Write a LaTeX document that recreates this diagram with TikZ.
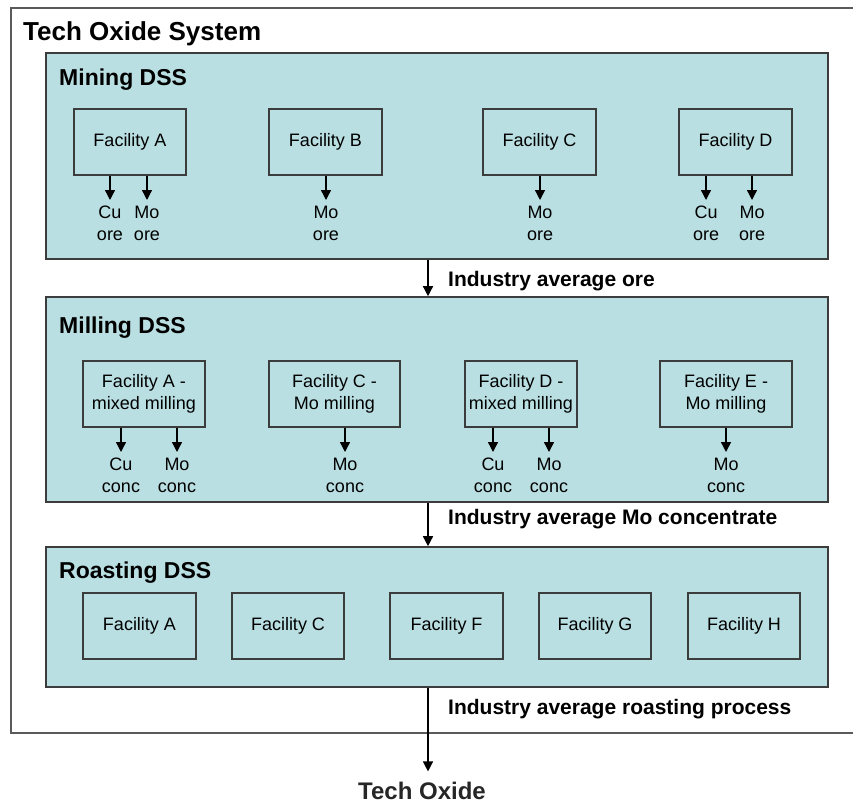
\documentclass[tikz,border=0pt]{standalone}
\usepackage{fontspec}
\setmainfont{Liberation Sans}
\usetikzlibrary{positioning}
\usetikzlibrary{calc}
\usetikzlibrary{arrows.meta}
\definecolor{panelfill}{HTML}{B9DFE2}
\definecolor{boxline}{HTML}{3C3C3C}
\definecolor{frameline}{HTML}{5A5A5A}
\newcommand{\plainfont}{\fontsize{18}{22}\selectfont}
\newcommand{\flowfont}{\bfseries\fontsize{21}{25}\selectfont}

\begin{document}
\begin{tikzpicture}[x=1pt, y=-1pt,
	panel/.style={draw=boxline, line width=1.6pt, fill=panelfill, inner sep=0pt, minimum width=782pt},
	facility/.style={draw=boxline, line width=1.6pt, fill=panelfill, align=center, font=\plainfont, minimum height=66pt, inner sep=2pt},
	output/.style={align=center, font=\plainfont, anchor=north, inner sep=0pt, outer sep=6pt},
	heading/.style={anchor=base west, inner sep=0pt, font=\bfseries\fontsize{23}{27}\selectfont},
	flowlabel/.style={anchor=base west, inner sep=0pt, font=\flowfont},
	arr/.style={-{Triangle[width=10pt,length=10pt]}, line width=1.4pt}]
	\useasboundingbox (0,0) rectangle (853,803);
	\draw[draw=frameline, line width=2pt] (11,8) rectangle (880,733);
	\node[anchor=base west, inner sep=0pt, font=\bfseries\fontsize{26}{30}\selectfont] (system) at (23,40) {Tech Oxide System};
	\coordinate (flow) at (428,0);
	
	\node[panel, minimum height=206pt] (mining) at (437,156) {};
	\node[heading] (miningtitle) at (59,85) {Mining DSS};
	\node[facility, minimum width=112pt] (mineA) at (130,142) {Facility A};
	\node[facility, minimum width=113pt] (mineB) at (325.5,142) {Facility B};
	\node[facility, minimum width=113pt] (mineC) at (539.5,142) {Facility C};
	\node[facility, minimum width=113pt] (mineD) at (735.5,142) {Facility D};
	\node[output] (mineAcu) at (110,200) {Cu\\ore};
	\node[output] (mineAmo) at (147,200) {Mo\\ore};
	\node[output] (mineBmo) at (326,200) {Mo\\ore};
	\node[output] (mineCmo) at (540,200) {Mo\\ore};
	\node[output] (mineDcu) at (706,200) {Cu\\ore};
	\node[output] (mineDmo) at (752,200) {Mo\\ore};
	
	\node[panel, minimum height=205pt] (milling) at (437,399.5) {};
	\node[heading] (millingtitle) at (59,333) {Milling DSS};
	\node[facility, minimum width=122pt] (millA) at (144,394) {Facility A -\\mixed milling};
	\node[facility, minimum width=131pt] (millC) at (334.5,394) {Facility C -\\Mo milling};
	\node[facility, minimum width=112pt] (millD) at (521,394) {Facility D -\\mixed milling};
	\node[facility, minimum width=132pt] (millE) at (726,394) {Facility E -\\Mo milling};
	\node[output] (millAcu) at (121,452) {Cu\\conc};
	\node[output] (millAmo) at (177,452) {Mo\\conc};
	\node[output] (millCmo) at (345,452) {Mo\\conc};
	\node[output] (millDcu) at (493,452) {Cu\\conc};
	\node[output] (millDmo) at (549,452) {Mo\\conc};
	\node[output] (millEmo) at (726,452) {Mo\\conc};
	
	\node[panel, minimum height=140pt] (roasting) at (437,617) {};
	\node[heading] (roastingtitle) at (59,578) {Roasting DSS};
	\node[facility, minimum width=113pt] (roastA) at (139.5,626) {Facility A};
	\node[facility, minimum width=112pt] (roastC) at (288,626) {Facility C};
	\node[facility, minimum width=113pt] (roastF) at (446.5,626) {Facility F};
	\node[facility, minimum width=112pt] (roastG) at (595,626) {Facility G};
	\node[facility, minimum width=112pt] (roastH) at (744,626) {Facility H};
	
	\node[flowlabel] (oreavg) at (448,286) {Industry average ore};
	\node[flowlabel] (concavg) at (448,524) {Industry average Mo concentrate};
	\node[flowlabel] (roastavg) at (448,714) {Industry average roasting process};
	\node[anchor=base, inner sep=0pt, font=\bfseries\fontsize{24}{28}\selectfont, text=black!85] (oxide) at (422,799) {Tech Oxide};
	
	\draw[arr] (mineA.south -| mineAcu) -> (mineAcu.north);
	\draw[arr] (mineA.south -| mineAmo) -> (mineAmo.north);
	\draw[arr] (mineB.south -| mineBmo) -> (mineBmo.north);
	\draw[arr] (mineC.south -| mineCmo) -> (mineCmo.north);
	\draw[arr] (mineD.south -| mineDcu) -> (mineDcu.north);
	\draw[arr] (mineD.south -| mineDmo) -> (mineDmo.north);
	\draw[arr] (millA.south -| millAcu) -> (millAcu.north);
	\draw[arr] (millA.south -| millAmo) -> (millAmo.north);
	\draw[arr] (millC.south -| millCmo) -> (millCmo.north);
	\draw[arr] (millD.south -| millDcu) -> (millDcu.north);
	\draw[arr] (millD.south -| millDmo) -> (millDmo.north);
	\draw[arr] (millE.south -| millEmo) -> (millEmo.north);
	
	\draw[arr] (mining.south -| flow) -> (milling.north -| flow);
	\draw[arr] (milling.south -| flow) -> (roasting.north -| flow);
	\draw[arr, shorten >=10pt] (roasting.south -| flow) -> (oxide.north -| flow);
\end{tikzpicture}
\end{document}
